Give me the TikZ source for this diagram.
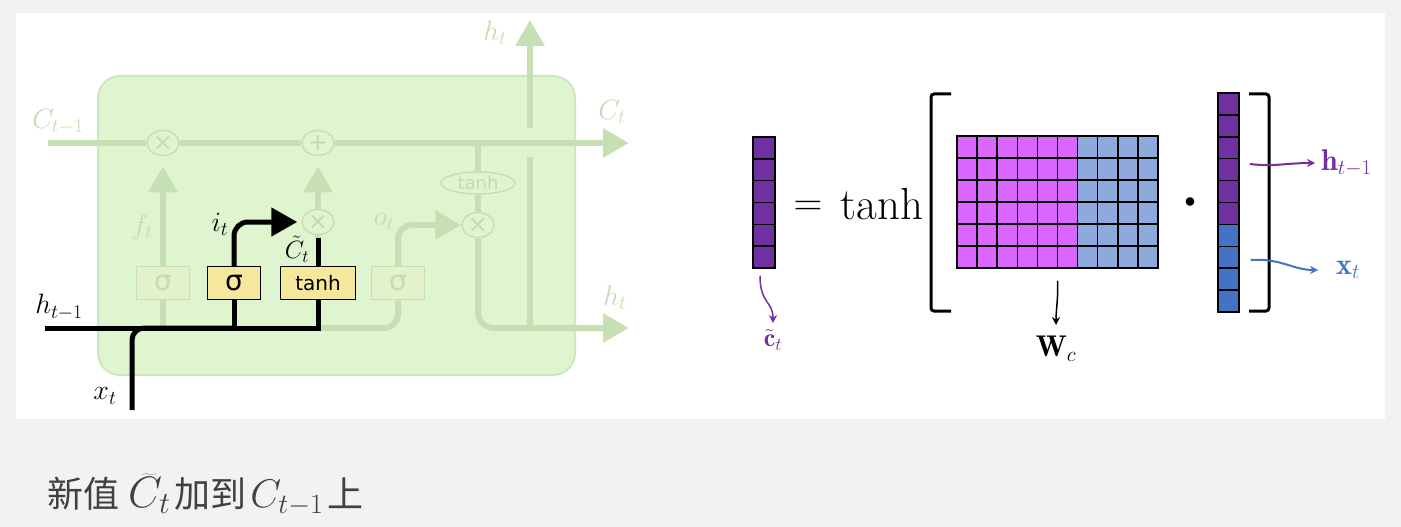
\documentclass[tikz,border=0pt]{standalone}
\usepackage{fix-cm}
\usepackage{fontspec}
\newfontfamily\gatefont{DejaVu Sans}
\newfontfamily\cjk{Noto Sans CJK SC}
\usetikzlibrary{arrows.meta,shapes.geometric}
\definecolor{slidebg}{HTML}{F2F2F2}
\definecolor{cellbg}{HTML}{DFF5D0}
\definecolor{cellrim}{HTML}{CFE7BF}
\definecolor{faded}{HTML}{C6E0B4}
\definecolor{fadedtxt}{HTML}{C3DCB1}
\definecolor{gatefill}{HTML}{F5E79E}
\definecolor{ghostfill}{HTML}{E4F2CC}
\definecolor{vecpurple}{HTML}{7030A0}
\definecolor{wmagenta}{HTML}{D966FF}
\definecolor{wblue}{HTML}{8EA9DB}
\definecolor{xblue}{HTML}{4472C4}
\definecolor{textgray}{HTML}{404040}

\begin{document}
\begin{tikzpicture}[x=1pt,y=-1pt,
    lbl/.style={font=\fontsize{28}{32}\selectfont,inner sep=0pt},
    ghost/.style={lbl,text=fadedtxt},
    pipe/.style={faded,line width=6pt},
    bold/.style={black,line width=5pt},
    head/.style={-{Triangle[length=26pt,width=28pt]}},
    gate/.style={draw=black,line width=1.5pt,fill=gatefill,minimum width=53pt,
      minimum height=33pt,inner sep=0pt,font=\gatefont\fontsize{28}{30}\selectfont},
    ghostgate/.style={gate,draw=faded,fill=ghostfill,text=fadedtxt},
    op/.style={ellipse,draw=faded,line width=1.5pt,fill=cellbg,minimum width=32pt,
      minimum height=25pt,inner sep=0pt,text=fadedtxt,font=\gatefont\fontsize{24}{26}\selectfont},
    vlbl/.style={font=\fontsize{30}{34}\selectfont,inner sep=0pt},
    cellline/.style={black,line width=1.5pt}]
  \useasboundingbox (0,0) rectangle (1401,527);
  \fill[slidebg] (0,0) rectangle (1401,527);
  \fill[white] (16,13) rectangle (1385,419);

  % lstm cell, input gate highlighted
  \draw[cellrim,fill=cellbg,line width=2pt,rounded corners=22pt] (98,76) rectangle (575,375);
  \coordinate (cin) at (48,143);
  \coordinate (cout) at (629,143);
  \coordinate (cjoin) at (478,143);
  \coordinate (hin) at (45,328);
  \coordinate (hF) at (163,328);
  \coordinate (hI) at (234,328);
  \coordinate (tjoin) at (318,328);
  \coordinate (hjoin) at (530,328);
  \coordinate (hout) at (629,328);
  \coordinate (xin) at (132,410);
  \coordinate (ctop) at (318,238);
  \coordinate (hgap) at (530,157);
  \coordinate (hup) at (530,128);
  \coordinate (htop) at (530,20);

  \node[op] (mulF) at (163,143) {×};
  \node[op] (addC) at (318,143) {+};
  \node[op] (mulI) at (318,222) {×};
  \node[op] (mulO) at (478,225) {×};
  \node[op,minimum width=74pt,minimum height=22pt,font=\gatefont\fontsize{18}{20}\selectfont]
    (tanhO) at (478,183) {tanh};
  \node[ghostgate] (sigF) at (163,283) {σ};
  \node[ghostgate] (sigO) at (398,283) {σ};

  % faded paths
  \draw[pipe] (cin) -- (mulF.west);
  \draw[pipe] (mulF.east) -- (addC.west);
  \draw[pipe,head] (addC.east) -- (cout);
  \draw[pipe] (hF) -- (sigF.south);
  \draw[pipe,head,shorten >=10pt] (sigF.north) -- (mulF.south);
  \draw[pipe] (ctop) -- (mulI.south);
  \draw[pipe,head,shorten >=10pt] (mulI.north) -- (addC.south);
  \draw[pipe,rounded corners=14pt] (tjoin) -| (sigO.south);
  \draw[pipe,head,rounded corners=14pt] (sigO.north) |- (mulO.west);
  \draw[pipe] (cjoin) -- (tanhO.north);
  \draw[pipe] (tanhO.south) -- (mulO.north);
  \draw[pipe,head,rounded corners=16pt] (mulO.south) |- (hout);
  \draw[pipe] (hjoin) -- (hgap);
  \draw[pipe,head] (hup) -- (htop);

  % input gate and candidate
  \node[gate] (sigI) at (234,283) {σ};
  \node[gate,minimum width=75pt,font=\gatefont\fontsize{20}{22}\selectfont] (tanhC) at (318,283) {tanh};
  \draw[bold] (hin) -- (tjoin) -- (tanhC.south);
  \draw[bold] (tanhC.north) -- (ctop);
  \draw[bold] (hI) -- (sigI.south);
  \draw[bold,head,rounded corners=14pt] (sigI.north) |- ([xshift=-4pt]mulI.west);
  \draw[bold,rounded corners=12pt] (xin) |- (hI);

  \node[ghost] (lblCin) at (58,122) {$C_{t-1}$};
  \node[ghost] (lblCout) at (612,112) {$C_t$};
  \node[ghost] (lblF) at (142,227) {$f_t$};
  \node[ghost] (lblO) at (384,222) {$o_t$};
  \node[ghost] (lblHup) at (495,33) {$h_t$};
  \node[ghost] (lblHout) at (615,298) {$h_t$};
  \node[lbl] (lblI) at (220,224) {$i_t$};
  \node[lbl,font=\fontsize{25}{28}\selectfont] (lblCt) at (297,249) {$\tilde{C}_t$};
  \node[lbl] (lblHin) at (59,307) {$h_{t-1}$};
  \node[lbl] (lblX) at (105,396) {$x_t$};

  % candidate vector
  \node[draw,fill=vecpurple,line width=1.5pt,minimum width=22pt,minimum height=131pt,inner sep=0pt]
    (ct) at (764,202.5) {};
  \foreach \i in {1,...,5}
    \draw[cellline] (753,{137+\i*21.83}) -- (775,{137+\i*21.83});
  \node[vlbl,text=vecpurple,anchor=north,font=\fontsize{26}{30}\selectfont] (ctLbl) at (773,329)
    {$\tilde{\mathbf{c}}_t$};
  \draw[vecpurple,line width=1.5pt,-{Stealth[length=8pt,width=8pt]}]
    ([xshift=-4pt,yshift=-7pt]ct.south) .. controls +(0,28) and +(0,-22) .. ([yshift=6pt]ctLbl.north);

  \node[font=\fontsize{40}{44}\selectfont,inner sep=0pt] (eq) at (808,208) {$=$};
  \node[font=\fontsize{45}{48}\selectfont,inner sep=0pt] (tanhTxt) at (882,204) {$\tanh$};

  % weight matrix
  \fill[wmagenta] (957,136) rectangle (1078,268);
  \fill[wblue] (1078,136) rectangle (1158,268);
  \foreach \j in {1,...,9}
    \draw[cellline] ({957+\j*20.1},136) -- ({957+\j*20.1},268);
  \foreach \i in {1,...,5}
    \draw[cellline] (957,{136+\i*22}) -- (1158,{136+\i*22});
  \node[draw,line width=1.5pt,minimum width=201pt,minimum height=132pt,inner sep=0pt]
    (Wc) at (1057.5,202) {};
  \node[vlbl,anchor=north] (WcLbl) at (1056,336) {$\mathbf{W}_c$};
  \draw[line width=1.5pt,-{Stealth[length=8pt,width=8pt]}]
    ([yshift=-12pt]Wc.south) .. controls +(1,15) and +(0,-15) .. ([yshift=11pt]WcLbl.north);

  \node[font=\fontsize{22}{26}\selectfont,inner sep=0pt] (dot) at (1190,203) {$\bullet$};

  % stacked input vector
  \fill[vecpurple] (1218,93) rectangle (1239,224.4);
  \fill[xblue] (1218,224.4) rectangle (1239,312);
  \foreach \i in {1,...,9}
    \draw[cellline] (1218,{93+\i*21.9}) -- (1239,{93+\i*21.9});
  \node[draw,line width=1.5pt,minimum width=21pt,minimum height=219pt,inner sep=0pt]
    (hx) at (1228.5,202.5) {};

  % brackets
  \draw[line width=3pt,rounded corners=3pt] (951,94) -| (931,311) -- (951,311);
  \draw[line width=3pt,rounded corners=3pt] (1249,94) -| (1269,311) -- (1249,311);

  \node[vlbl,text=vecpurple,anchor=west] (hLbl) at (1321,163) {$\mathbf{h}_{t-1}$};
  \node[vlbl,text=xblue,anchor=west] (xLbl) at (1336,270) {$\mathbf{x}_t$};
  \draw[vecpurple,line width=2pt,-{Stealth[length=8pt,width=8pt]}]
    ([xshift=10pt,yshift=38.5pt]hx.east) .. controls +(25,3) and +(-30,0) .. ([xshift=-6pt]hLbl.west);
  \draw[xblue,line width=2pt,-{Stealth[length=8pt,width=8pt]}]
    ([xshift=11pt,yshift=-57.5pt]hx.east) .. controls +(30,-2) and +(-25,0) .. ([xshift=-18pt]xLbl.west);

  % caption
  \node[anchor=base west,text=textgray,font=\fontsize{36}{40}\selectfont,inner sep=0pt]
    (caption) at (47,507) {\cjk 新值\kern9pt{\fontsize{44}{48}\selectfont$\widetilde{C}_t$}\kern4pt加到\kern4pt{\fontsize{40}{44}\selectfont$C_{t-1}$}\kern4pt上};
\end{tikzpicture}
\end{document}
